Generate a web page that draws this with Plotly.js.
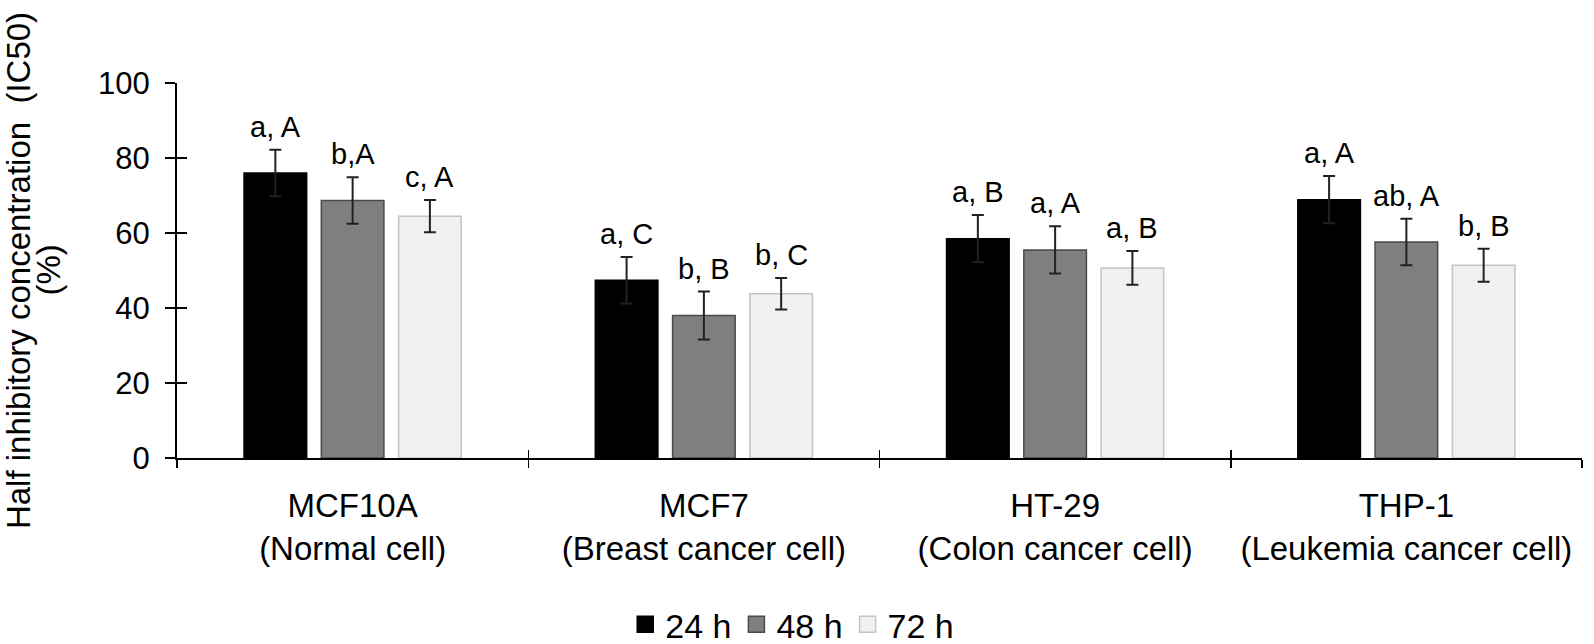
<!DOCTYPE html>
<html>
<head>
<meta charset="utf-8">
<script src="https://cdn.plot.ly/plotly-3.0.1.min.js"></script>
<style>html,body{margin:0;padding:0;background:#fff;}#chart{width:1594px;height:644px;}</style>
</head>
<body>
<div id="chart"></div>
<script>
// ---- data ----
const categories = ['MCF10A<br>(Normal cell)', 'MCF7<br>(Breast cancer cell)', 'HT-29<br>(Colon cancer cell)', 'THP-1<br>(Leukemia cancer cell)'];
const seriesNames = ['24 h', '48 h', '72 h'];
const ic50_24h = [76.0, 47.4, 58.5, 68.9];
const err_24h  = [6.2, 6.2, 6.3, 6.3];
const ic50_48h = [68.7, 38.0, 55.5, 57.6];
const err_48h  = [6.2, 6.4, 6.3, 6.2];
const ic50_72h = [64.5, 43.8, 50.7, 51.4];
const err_72h  = [4.3, 4.2, 4.5, 4.4];
const letters_24h = ['a, A', 'a, C', 'a, B', 'a, A'];
const letters_48h = ['b,A', 'b, B', 'a, A', 'ab, A'];
const letters_72h = ['c, A', 'b, C', 'a, B', 'b, B'];
const yTickVals = [0, 20, 40, 60, 80, 100];
const yTitleLine1 = 'Half inhibitory concentration\u00a0 (IC50)';
const yTitleLine2 = '(%)';

// ---- styling ----
const FONT = 'Liberation Sans, Arial, sans-serif';
const fills = ['#000000', '#7f7f7f', '#f0f0f0'];
const borders = ['#000000', '#4a4a4a', '#c4c4c4'];
const BARGAP = 0.34, BARGROUPGAP = 0.19;

const values = [ic50_24h, ic50_48h, ic50_72h];
const errs = [err_24h, err_48h, err_72h];
const letters = [letters_24h, letters_48h, letters_72h];

const traces = [];
values.forEach((v, j) => {
  traces.push({
    type: 'bar', x: categories, y: v, name: seriesNames[j], showlegend: false,
    marker: {color: fills[j], line: {color: borders[j], width: 1.5}},
    error_y: {type: 'data', array: errs[j], visible: true, color: '#222', thickness: 2, width: 6}
  });
});
// legend entries (larger square swatches)
seriesNames.forEach((n, j) => {
  traces.push({
    type: 'scatter', mode: 'markers', x: [null], y: [null], name: n, showlegend: true,
    marker: {symbol: 'square', size: 16, color: fills[j], line: {color: borders[j], width: 1.5}}
  });
});
// invisible helper traces so the overlay axes (inward half of the crossing ticks) are drawn
traces.push({type: 'scatter', mode: 'markers', x: [categories[0]], y: [0], yaxis: 'y2', showlegend: false, hoverinfo: 'skip', marker: {opacity: 0}});
traces.push({type: 'scatter', mode: 'markers', x: [0], y: [0], xaxis: 'x2', showlegend: false, hoverinfo: 'skip', marker: {opacity: 0}});

const slot = (1 - BARGAP) / 3;
const annotations = [];
letters.forEach((arr, j) => {
  const off = -(1 - BARGAP) / 2 + (j + 0.5) * slot;
  arr.forEach((t, i) => {
    annotations.push({
      xref: 'x', yref: 'y', x: i + off, y: values[j][i] + errs[j][i],
      text: t, showarrow: false, xanchor: 'center', yanchor: 'bottom', yshift: 5,
      font: {family: FONT, size: 29, color: '#000'}
    });
  });
});
annotations.push({
  xref: 'paper', yref: 'paper', x: -0.0918, y: 0.5, xanchor: 'center', yanchor: 'middle',
  text: yTitleLine2, textangle: -90, showarrow: false,
  font: {family: FONT, size: 33, color: '#000'}
});

const boundaries = categories.map((c, i) => i - 0.5).concat([categories.length - 0.5]);

const layout = {
  width: 1594, height: 644,
  margin: {l: 177, r: 12, t: 83, b: 186},
  paper_bgcolor: '#fff', plot_bgcolor: 'rgba(0,0,0,0)',
  barmode: 'group', bargap: BARGAP, bargroupgap: BARGROUPGAP,
  font: {family: FONT, color: '#000'},
  showlegend: true,
  legend: {
    orientation: 'h', xref: 'container', yref: 'container',
    x: 0.497, xanchor: 'center', y: 0.03, yanchor: 'middle',
    font: {family: FONT, size: 34, color: '#000'},
    itemsizing: 'trace', traceorder: 'normal'
  },
  xaxis: {
    type: 'category', range: [-0.5, 3.5],
    showline: true, linecolor: '#000', linewidth: 2,
    ticks: 'outside', tickson: 'boundaries', ticklen: 8, tickwidth: 1.5, tickcolor: '#000',
    tickfont: {family: FONT, size: 33, color: '#000'},
    ticklabelstandoff: 17,
    showgrid: false, zeroline: false, fixedrange: true
  },
  xaxis2: {
    type: 'linear', overlaying: 'x', anchor: 'y', range: [-0.5, 3.5], tickvals: boundaries,
    ticks: 'inside', ticklen: 8, tickwidth: 1.5, tickcolor: '#000',
    showticklabels: false, showline: false, showgrid: false, zeroline: false
  },
  yaxis: {
    range: [0, 100], tickvals: yTickVals,
    showline: true, linecolor: '#000', linewidth: 2,
    ticks: 'outside', ticklen: 10, tickwidth: 2, tickcolor: '#000',
    tickfont: {family: FONT, size: 31, color: '#000'},
    ticklabelstandoff: 9,
    showgrid: false, zeroline: false,
    title: {text: yTitleLine1, font: {family: FONT, size: 33, color: '#000'}, standoff: 79}
  },
  yaxis2: {
    type: 'linear', overlaying: 'y', anchor: 'x', side: 'left', range: [0, 100], tickvals: yTickVals,
    ticks: 'inside', ticklen: 10, tickwidth: 2, tickcolor: '#000',
    showticklabels: false, showline: false, showgrid: false, zeroline: false
  },
  annotations: annotations
};

Plotly.newPlot('chart', traces, layout, {displayModeBar: false, staticPlot: true});
</script>
</body>
</html>
